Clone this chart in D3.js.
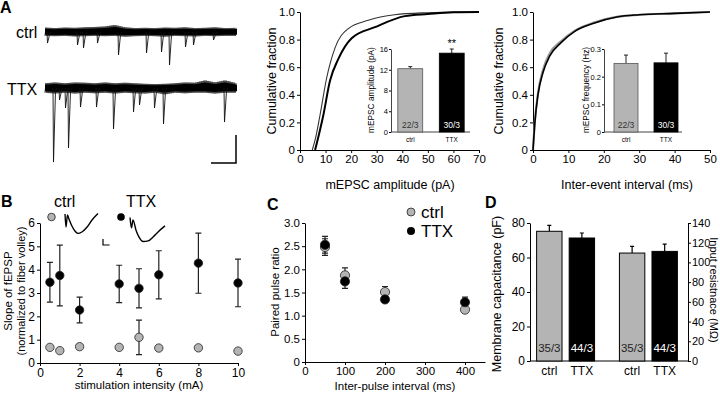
<!DOCTYPE html>
<html><head><meta charset="utf-8">
<script src="https://cdn.jsdelivr.net/npm/d3@7"></script>
<style>body{margin:0;background:#fff} svg{display:block}</style>
</head><body><svg id="c" width="720" height="393"></svg>
<script>
// ---------------- DATA ----------------
// Panel A: raw traces (time in s, current in pA relative to baseline)
const envTime = [0,0.4,0.8,1.2,1.6,2.0,2.4,2.8,3.2,3.6,4.0,4.4,4.8,5.2,5.6,6.0,6.4,6.8,7.2,7.68];
const ctrlNoiseHi = [3.2,2.8,3.2,3,3.4,3.6,4,5,3.4,2.8,3,2.8,3.2,3,3.4,2.8,3,3.4,2.8,3];
const ctrlNoiseLo = [-2.8,-3,-2.8,-3.2,-3,-2.8,-3,-2.8,-3.4,-3,-2.8,-3,-3.4,-2.8,-3,-3.2,-2.8,-3,-2.8,-2.8];
const ttxNoiseHi = [3.4,4,3.4,4,3.8,3.4,4,3.4,3.8,3.4,3,2.8,3,3.4,4,3.8,5.5,4,5.5,3.4];
const ttxNoiseLo = [-3.4,-4,-3.4,-4,-3.4,-3.8,-3.4,-4,-3.4,-3.8,-4,-3.4,-4.6,-3.4,-3.8,-3.4,-3.4,-4,-3.4,-3.4];
const ctrlEventTime = [0.08,1.28,1.52,2.08,2.92,4.04,4.64,4.96,5.6,5.92,6.72];
const ctrlEventAmp = [7.9,9.3,11.4,7.9,16.4,15,14.3,23.6,10.7,9.3,5.7];
const ttxEventTime = [0.32,0.56,0.8,0.92,1.4,2.04,2.72,3.52,3.76,4.36,4.72,7.16];
const ttxEventAmp = [52.9,8.6,14.3,42.9,13.6,13.6,29.3,17.1,12.1,14.3,25.7,24.3];

// Panel A: cumulative amplitude distributions
const ampCtrlX = [4.8,6,7.8,10.4,13.7,18.9,26.7,37,50,60,70];
const ampCtrlY = [0,0.08,0.25,0.52,0.74,0.88,0.94,0.98,0.995,1,1];
const ampTtxX = [5.9,7.5,9.1,11.7,15,20.2,29.3,41,50,60,70];
const ampTtxY = [0,0.12,0.25,0.5,0.66,0.81,0.89,0.97,0.985,0.998,1];
const ampBarCats = ["ctrl","TTX"];
const ampBarVals = [12.2,15.2];
const ampBarErr = [0.4,0.8];
const ampBarN = ["22/3","30/3"];

// Panel A: cumulative inter-event intervals
const iviX = [0,0.5,1.4,2.8,4.7,8,11.8,17.4,24,30,40,50];
const iviCtrlY = [0,0.2,0.41,0.58,0.7,0.79,0.865,0.925,0.966,0.98,0.99,1];
const iviTtxY = [0,0.19,0.4,0.56,0.68,0.78,0.86,0.92,0.965,0.98,0.99,1];
const freqBarVals = [0.248,0.25];
const freqBarErr = [0.03,0.035];
const freqBarN = ["22/3","30/3"];

// Panel B: fEPSP slope vs stimulation intensity
const stimX = [0.5,1,2,4,5,6,8,10];
const slopeCtrl = [0.67,0.53,0.7,0.67,1.1,0.64,0.65,0.51];
const slopeCtrlErr = [0,0,0.1,0,0.74,0,0,0];
const slopeTtx = [3.46,3.75,2.27,3.39,3.2,3.78,4.28,3.43];
const slopeTtxErr = [0.85,1.3,0.55,0.8,0.84,1.03,1.29,1.02];
const waveCtrlT = [0,0.3,0.75,1.2,2.1,3,3.9,5.1,6.7,8.2,10];
const waveCtrlV = [0,-0.65,-0.05,-0.25,-0.6,-0.85,-0.97,-0.9,-0.65,-0.3,0.02];
const waveTtxT = [0,0.45,0.9,1.8,2.7,4.0,5.5,7.0,8.5,10.6];
const waveTtxV = [0,-0.52,-0.12,-0.62,-0.97,-1.2,-1.17,-0.97,-0.72,-0.42];

// Panel C: paired pulse ratio
const ppiX = [50,100,200,400];
const ppCtrl = [2.48,1.87,1.51,1.13];
const ppCtrlErr = [0.18,0.16,0.12,0.05];
const ppTtx = [2.53,1.74,1.35,1.29];
const ppTtxErr = [0.18,0.15,0.05,0.11];

// Panel D: membrane properties
const dGroups = ["cap","res"];
const dCats = ["ctrl","TTX"];
const capVals = [75.2,71.3];
const capErr = [3.4,2.9];
const resVals = [109.5,111.2];
const resErr = [6.8,7.4];
const dN = ["35/3","44/3"];

// ---------------- DRAWING ----------------
const FONT = "'Liberation Sans', Arial, Helvetica, sans-serif";
const GRAY = "#b4b4b4";
const svg = d3.select("#c").attr("font-family", FONT);

function style(g, fs) {
  g.attr("font-family", FONT).attr("font-size", fs);
  g.selectAll("path.domain").attr("stroke", "#000").attr("stroke-width", 1);
  g.selectAll(".tick line").attr("stroke", "#000");
  g.selectAll(".tick text").attr("fill", "#000");
  return g;
}
function text(x, y, s, fs, opts = {}) {
  const t = svg.append("text").attr("x", x).attr("y", y).text(s)
    .attr("font-size", fs).attr("fill", opts.fill || "#000")
    .attr("text-anchor", opts.anchor || "start");
  if (opts.bold) t.attr("font-weight", "bold");
  if (opts.rot) t.attr("transform", `rotate(${opts.rot},${x},${y})`).attr("dominant-baseline", "central");
  return t;
}
const fmt1 = d => d === 0 ? "0" : d3.format(".1f")(d);
const fmtD = d3.format("d");

// ---- Panel A traces ----
text(0, 13, "A", 16, {bold: true});
text(16, 38, "ctrl", 16);
text(7, 95, "TTX", 16);
const xTr = d3.scaleLinear([0, 7.68], [45, 237]);
const yTrC = d3.scaleLinear([-20, 0], [60, 32]);
const yTrT = d3.scaleLinear([-20, 0], [116, 88]);
function drawTrace(y, hi, lo, et, ea) {
  const env = envTime.map((t, i) => ({t, hi: hi[i], lo: lo[i]}));
  svg.append("path").datum(env)
    .attr("d", d3.area().x(d => xTr(d.t)).y0(d => y(d.lo * 0.7)).y1(d => y(d.hi * 0.7)))
    .attr("fill", "#000");
  // rendering of the noise band as a dense zig-zag inside the read envelope
  const zz = [];
  const step = 0.04;
  for (let k = 0, t = 0; t <= 7.68; t += step, k++) {
    const i = Math.min(envTime.length - 2, d3.bisectRight(envTime, t) - 1);
    const f = (t - envTime[i]) / (envTime[i + 1] - envTime[i]);
    const h = hi[i] + f * (hi[i + 1] - hi[i]);
    const l = lo[i] + f * (lo[i + 1] - lo[i]);
    zz.push([xTr(t), y(k % 2 ? h : l)]);
  }
  svg.append("path").attr("d", d3.line()(zz)).attr("fill", "none").attr("stroke", "#000").attr("stroke-width", 0.9);
  et.forEach((t, i) => {
    svg.append("path")
      .attr("d", d3.line()([[xTr(t), y(0)], [xTr(t + 0.02), y(-ea[i])], [xTr(t + 0.1), y(-2)], [xTr(t + 0.16), y(0)]]))
      .attr("fill", "none").attr("stroke", "#111").attr("stroke-width", 0.9);
  });
}
drawTrace(yTrC, ctrlNoiseHi, ctrlNoiseLo, ctrlEventTime, ctrlEventAmp);
drawTrace(yTrT, ttxNoiseHi, ttxNoiseLo, ttxEventTime, ttxEventAmp);
// scale bar: 20 pA, 1 s
{
  const sx = 236, sy = 163;
  const h = yTrT(-20) - yTrT(0), w = xTr(1) - xTr(0);
  svg.append("path").attr("d", `M${sx},${sy - h}V${sy}H${sx - w}`).attr("fill", "none").attr("stroke", "#000").attr("stroke-width", 1.5);
}

// ---- Panel A middle: amplitude CDF ----
const xAmp = d3.scaleLinear([0, 70], [300, 479]);
const yCdf = d3.scaleLinear([0, 1], [150, 12]);
style(svg.append("g").attr("transform", "translate(0,150)")
  .call(d3.axisBottom(xAmp).tickValues(d3.range(0, 71, 10)).tickFormat(fmtD).tickSize(3).tickSizeOuter(0).tickPadding(2)), 11.5);
style(svg.append("g").attr("transform", "translate(300,0)")
  .call(d3.axisLeft(yCdf).tickValues(d3.range(0, 1.01, 0.2)).tickFormat(fmt1).tickSize(3).tickSizeOuter(0).tickPadding(2)), 11.5);
text(272, 81, "Cumulative fraction", 12.5, {anchor: "middle", rot: -90});
text(390, 189, "mEPSC amplitude (pA)", 12.5, {anchor: "middle"});
const lineAmp = (X, Y) => d3.line().curve(d3.curveMonotoneX)(X.map((x, i) => [xAmp(x), yCdf(Y[i])]));
svg.append("path").attr("d", lineAmp(ampCtrlX, ampCtrlY)).attr("fill", "none").attr("stroke", "#333").attr("stroke-width", 1.1);
svg.append("path").attr("d", lineAmp(ampTtxX, ampTtxY)).attr("fill", "none").attr("stroke", "#000").attr("stroke-width", 2);

function inset(axisX, x1, yDomain, ticks, tickFmt, vals, errs, ns, ylabel, ylabelX, bandRange, pO) {
  const y = d3.scaleLinear(yDomain, [132, 49]);
  const xb = d3.scaleBand(ampBarCats, bandRange).paddingInner(0.4).paddingOuter(pO);
  svg.append("line").attr("x1", axisX).attr("x2", x1).attr("y1", 132).attr("y2", 132).attr("stroke", "#444");
  const ax = style(svg.append("g").attr("transform", `translate(${axisX},0)`)
    .call(d3.axisLeft(y).tickValues(ticks).tickFormat(tickFmt).tickSize(2).tickSizeOuter(0).tickPadding(1)), 7.5);
  ax.selectAll("path.domain").attr("stroke", "#444");
  ampBarCats.forEach((c, i) => {
    const bx = xb(c), bw = xb.bandwidth();
    const top = y(vals[i] + errs[i]);
    svg.append("line").attr("x1", bx + bw / 2).attr("x2", bx + bw / 2).attr("y1", y(vals[i])).attr("y2", top).attr("stroke", "#222");
    svg.append("line").attr("x1", bx + bw / 2 - 2).attr("x2", bx + bw / 2 + 2).attr("y1", top).attr("y2", top).attr("stroke", "#222");
    svg.append("rect").attr("x", bx).attr("y", y(vals[i])).attr("width", bw).attr("height", 132 - y(vals[i]))
      .attr("fill", i ? "#000" : GRAY).attr("stroke", i ? "#000" : "#555").attr("stroke-width", 0.8);
    text(bx + bw / 2, 128, ns[i], 8.5, {anchor: "middle", fill: i ? "#fff" : "#333"});
    text(bx + bw / 2, 142, c, 6.5, {anchor: "middle"});
  });
  text(ylabelX, 90, ylabel, 8.3, {anchor: "middle", rot: -90});
  return {y, xb};
}
const ia = inset(391, 470, [0, 16], [0, 4, 8, 12, 16], fmtD, ampBarVals, ampBarErr, ampBarN, "mEPSC amplitude (pA)", 371, [392, 470], 0.14);
text(ia.xb("TTX") + ia.xb.bandwidth() / 2, 47, "**", 11, {anchor: "middle"});

// ---- Panel A right: interval CDF ----
const xIvi = d3.scaleLinear([0, 50], [533, 710]);
style(svg.append("g").attr("transform", "translate(0,150)")
  .call(d3.axisBottom(xIvi).tickValues(d3.range(0, 51, 10)).tickFormat(fmtD).tickSize(3).tickSizeOuter(0).tickPadding(2)), 11.5);
style(svg.append("g").attr("transform", "translate(533,0)")
  .call(d3.axisLeft(yCdf).tickValues(d3.range(0, 1.01, 0.2)).tickFormat(fmt1).tickSize(3).tickSizeOuter(0).tickPadding(2)), 11.5);
text(499, 81, "Cumulative fraction", 12.5, {anchor: "middle", rot: -90});
text(627, 189, "Inter-event interval (ms)", 12.5, {anchor: "middle"});
const lineIvi = Y => d3.line().curve(d3.curveMonotoneX)(iviX.map((x, i) => [xIvi(x), yCdf(Y[i])]));
svg.append("path").attr("d", lineIvi(iviCtrlY)).attr("fill", "none").attr("stroke", "#999").attr("stroke-width", 2.2);
svg.append("path").attr("d", lineIvi(iviTtxY)).attr("fill", "none").attr("stroke", "#000").attr("stroke-width", 1.6);
inset(604, 682, [0, 0.3], [0, 0.1, 0.2, 0.3], fmt1, freqBarVals, freqBarErr, freqBarN, "mEPSC frequency (Hz)", 586, [606, 686], 0.2);

// ---- Panel B ----
text(1, 207, "B", 16, {bold: true});
const xB = d3.scaleLinear([0, 10], [40, 238]);
const yB = d3.scaleLinear([0, 6], [363, 223]);
style(svg.append("g").attr("transform", "translate(0,363)")
  .call(d3.axisBottom(xB).tickValues(d3.range(0, 11, 2)).tickFormat(fmtD).tickSize(3).tickSizeOuter(0).tickPadding(2)), 12);
style(svg.append("g").attr("transform", "translate(40,0)")
  .call(d3.axisLeft(yB).tickValues(d3.range(0, 7, 1)).tickFormat(fmtD).tickSize(3).tickSizeOuter(0).tickPadding(2)), 12);
text(8, 291, "Slope of fEPSP", 11.5, {anchor: "middle", rot: -90});
text(21, 291, "(normalized to fiber volley)", 11, {anchor: "middle", rot: -90});
text(139, 389, "stimulation intensity (mA)", 11.5, {anchor: "middle"});
function errBars(xs, ys, es, xS, yS) {
  xs.forEach((x, i) => {
    if (!es[i]) return;
    const cx = xS(x), t = yS(ys[i] + es[i]), b = yS(ys[i] - es[i]);
    svg.append("path").attr("d", `M${cx},${t}V${b}M${cx - 3},${t}H${cx + 3}M${cx - 3},${b}H${cx + 3}`)
      .attr("stroke", "#222").attr("stroke-width", 1.2).attr("fill", "none");
  });
}
function dots(xs, ys, xS, yS, fill, r) {
  xs.forEach((x, i) => svg.append("circle").attr("cx", xS(x)).attr("cy", yS(ys[i])).attr("r", r)
    .attr("fill", fill).attr("stroke", "#222").attr("stroke-width", 0.8));
}
errBars(stimX, slopeTtx, slopeTtxErr, xB, yB);
errBars(stimX, slopeCtrl, slopeCtrlErr, xB, yB);
dots(stimX, slopeTtx, xB, yB, "#000", 4.2);
dots(stimX, slopeCtrl, xB, yB, GRAY, 4.2);
// legend + waveforms
text(54, 207, "ctrl", 16);
text(126, 207, "TTX", 16);
svg.append("circle").attr("cx", 51.5).attr("cy", 217).attr("r", 3.8).attr("fill", GRAY).attr("stroke", "#222").attr("stroke-width", 0.8);
svg.append("circle").attr("cx", 121).attr("cy", 217).attr("r", 3.8).attr("fill", "#000");
const wx = 3.3, wy = 20;
function wave(T, V, x0, y0) {
  svg.append("path").attr("d", d3.line().curve(d3.curveMonotoneX)(T.map((t, i) => [x0 + t * wx, y0 - V[i] * wy])))
    .attr("fill", "none").attr("stroke", "#000").attr("stroke-width", 1.4);
}
wave(waveCtrlT, waveCtrlV, 65, 214);
wave(waveTtxT, waveTtxV, 130, 217.5);
svg.append("path").attr("d", `M103,${245 - 0.3 * wy}V245H${103 + 2 * wx}`).attr("fill", "none").attr("stroke", "#000").attr("stroke-width", 1.2);

// ---- Panel C ----
text(267, 210, "C", 16, {bold: true});
const xC = d3.scaleLinear([0, 450], [305, 485]);
const yC = d3.scaleLinear([0, 3], [362, 223]);
style(svg.append("g").attr("transform", "translate(0,362)")
  .call(d3.axisBottom(xC).tickValues(d3.range(0, 401, 100)).tickFormat(fmtD).tickSize(3).tickSizeOuter(0).tickPadding(2)), 11.5);
style(svg.append("g").attr("transform", "translate(305,0)")
  .call(d3.axisLeft(yC).tickValues(d3.range(0, 3.01, 0.5)).tickFormat(fmt1).tickSize(3).tickSizeOuter(0).tickPadding(2)), 11.5);
text(275, 292, "Paired pulse ratio", 11.5, {anchor: "middle", rot: -90});
text(395, 390, "Inter-pulse interval (ms)", 11.5, {anchor: "middle"});
errBars(ppiX, ppCtrl, ppCtrlErr, xC, yC);
errBars(ppiX, ppTtx, ppTtxErr, xC, yC);
dots(ppiX, ppCtrl, xC, yC, GRAY, 4.6);
dots(ppiX, ppTtx, xC, yC, "#000", 4.6);
svg.append("circle").attr("cx", 411).attr("cy", 212).attr("r", 4).attr("fill", GRAY).attr("stroke", "#222").attr("stroke-width", 0.8);
svg.append("circle").attr("cx", 411).attr("cy", 231).attr("r", 4).attr("fill", "#000");
text(421, 218, "ctrl", 17);
text(421, 237, "TTX", 17);

// ---- Panel D ----
text(485, 208, "D", 16, {bold: true});
const yCap = d3.scaleLinear([0, 80], [361, 223]);
const yRes = d3.scaleLinear([0, 140], [361, 223]);
const xG = d3.scaleBand(dGroups, [530, 684]).paddingInner(0.3).paddingOuter(0.08);
const xI = d3.scaleBand(dCats, [0, xG.bandwidth()]).paddingInner(0.22);
svg.append("line").attr("x1", 530).attr("x2", 688).attr("y1", 361).attr("y2", 361).attr("stroke", "#000");
style(svg.append("g").attr("transform", "translate(530,0)")
  .call(d3.axisLeft(yCap).tickValues(d3.range(0, 81, 20)).tickFormat(fmtD).tickSize(3).tickSizeOuter(0).tickPadding(2)), 12);
style(svg.append("g").attr("transform", "translate(688,0)")
  .call(d3.axisRight(yRes).tickValues(d3.range(0, 141, 20)).tickFormat(fmtD).tickSize(3).tickSizeOuter(0).tickPadding(1)), 11);
function dBars(g, vals, errs, yS) {
  dCats.forEach((c, i) => {
    const bx = xG(g) + xI(c), bw = xI.bandwidth(), cx = bx + bw / 2;
    const top = yS(vals[i] + errs[i]);
    svg.append("path").attr("d", `M${cx},${yS(vals[i])}V${top}M${cx - 2},${top}H${cx + 2}`).attr("stroke", "#000").attr("stroke-width", 1.2);
    svg.append("rect").attr("x", bx).attr("y", yS(vals[i])).attr("width", bw).attr("height", 361 - yS(vals[i]))
      .attr("fill", i ? "#000" : GRAY).attr("stroke", "#000").attr("stroke-width", 1);
    text(cx, 352, dN[i], 11.5, {anchor: "middle", fill: i ? "#fff" : "#222"});
    text(cx, 375, c, 12, {anchor: "middle"});
  });
}
dBars("cap", capVals, capErr, yCap);
dBars("res", resVals, resErr, yRes);
text(497, 294, "Membrane capacitance (pF)", 12.5, {anchor: "middle", rot: -90});
text(714, 290, "Input resistnace (M\u03A9)", 11, {anchor: "middle", rot: 90});
</script>
</body></html>
